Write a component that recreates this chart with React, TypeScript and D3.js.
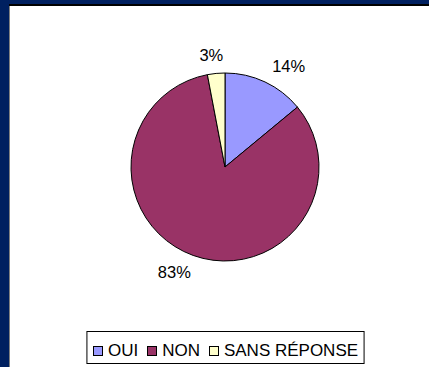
import React from "react";
import * as d3 from "d3";

const categories = ["OUI", "NON", "SANS RÉPONSE"];
const values = [14, 83, 3];
const labels = ["14%", "83%", "3%"];
const colors = ["#9999FF", "#993366", "#FFFFCC"];

const W = 429;
const H = 367;
const FONT = "'Liberation Sans', Arial, sans-serif";

function measure(text: string, size: number): number {
  if (typeof document === "undefined") return text.length * size * 0.6;
  const c = document.createElement("canvas");
  const ctx = c.getContext("2d");
  if (!ctx) return text.length * size * 0.6;
  ctx.font = `${size}px ${FONT}`;
  return ctx.measureText(text).width;
}

export default function App() {
  const cx = 225;
  const cy = 167;
  const r = 94;
  const pie = d3.pie<number>().sort(null).value((d) => d);
  const arcs = pie(values);
  const arc = d3.arc<d3.PieArcDatum<number>>().innerRadius(0).outerRadius(r);

  const labelSize = 16.5;
  const capH = labelSize * 0.716;

  const legendSize = 17;
  const sq = 9;
  const gapSqText = 6;
  const gapItem = 9;
  const padX = 6;
  const itemWidths = categories.map((c) => sq + gapSqText + measure(c, legendSize));
  const legendW = padX * 2 + d3.sum(itemWidths) + gapItem * (categories.length - 1);
  const legendH = 32;
  const legendX = cx + 0.5 - legendW / 2;
  const legendY = 331.5;
  let acc = legendX + padX;
  const itemX = itemWidths.map((w) => {
    const x = acc;
    acc += w + gapItem;
    return x;
  });

  return (
    <svg
      width={W}
      height={H}
      style={{ position: "absolute", left: 0, top: 0, display: "block" }}
      fontFamily={FONT}
    >
      <rect x={0} y={0} width={W} height={H} fill="#002060" />
      <rect x={9} y={4} width={W - 9} height={2} fill="#000000" />
      <rect x={9} y={6} width={1} height={H - 6} fill="#808080" />
      <rect x={10} y={6} width={W - 10} height={H - 6} fill="#FFFFFF" />

      <g transform={`translate(${cx},${cy})`}>
        {arcs.map((a, i) => (
          <path key={i} d={arc(a) || ""} fill={colors[i]} stroke="#000" strokeWidth={1} />
        ))}
      </g>

      {arcs.map((a, i) => {
        const mid = (a.startAngle + a.endAngle) / 2;
        const s = Math.sin(mid);
        const c = Math.cos(mid);
        const w = measure(labels[i], labelSize);
        const x = cx + s * (r + 11) + s * (w / 2) + s * 28;
        const yc = cy - c * (r + 11) - c * (capH / 2 + 1);
        return (
          <text
            key={i}
            x={x}
            y={yc + capH / 2}
            textAnchor="middle"
            fontSize={labelSize}
            fill="#000"
          >
            {labels[i]}
          </text>
        );
      })}

      <rect
        x={legendX}
        y={legendY}
        width={legendW}
        height={legendH}
        fill="#fff"
        stroke="#000"
        strokeWidth={1}
      />
      {categories.map((cat, i) => (
        <g key={cat}>
          <rect
            x={Math.round(itemX[i]) + 0.5}
            y={346.5}
            width={sq}
            height={sq}
            fill={colors[i]}
            stroke="#000"
            strokeWidth={1}
          />
          <text x={itemX[i] + sq + gapSqText} y={355.5} fontSize={legendSize} fill="#000">
            {cat}
          </text>
        </g>
      ))}
    </svg>
  );
}
